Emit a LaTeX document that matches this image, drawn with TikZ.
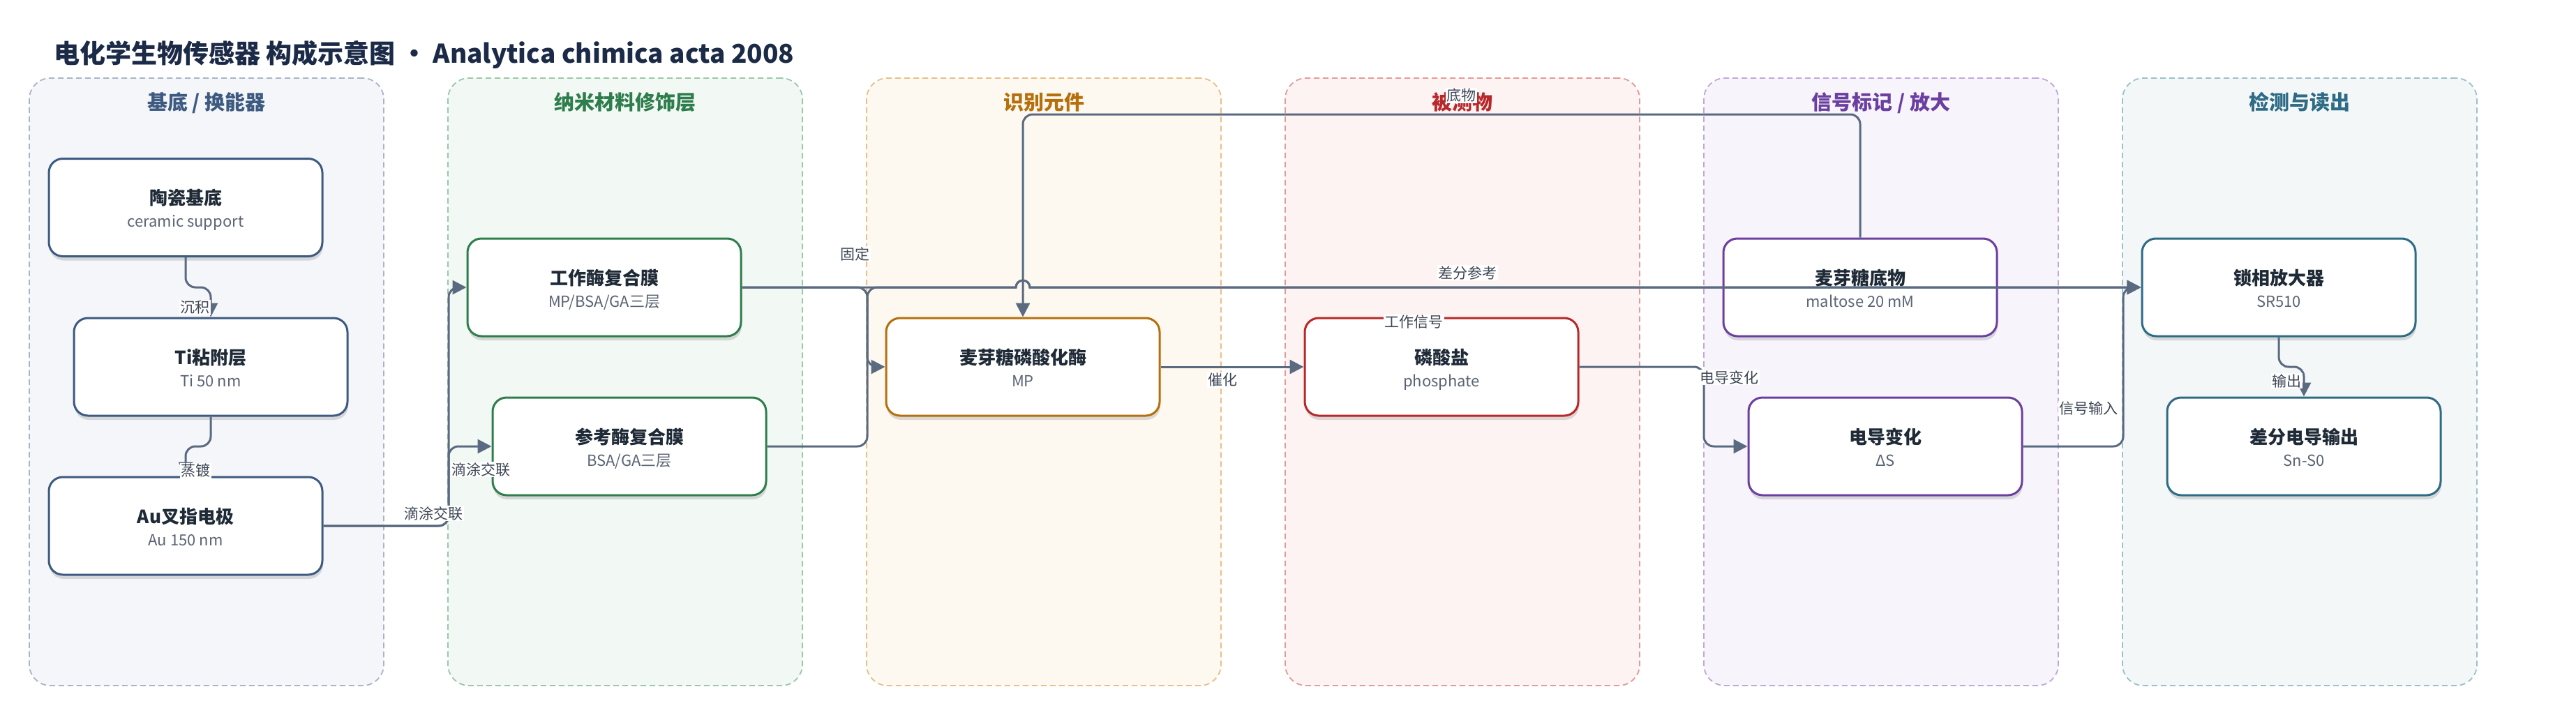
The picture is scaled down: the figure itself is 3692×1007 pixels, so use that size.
\documentclass[tikz,border=0pt]{standalone}
\usepackage{fontspec}
\setmainfont{Noto Sans CJK SC}
\usetikzlibrary{arrows.meta,shadows}
\definecolor{titlec}{HTML}{1B2A47}
\definecolor{edgec}{HTML}{5A6A80}
\definecolor{lblc}{HTML}{3D4654}
\definecolor{boxt}{HTML}{1F2A37}
\definecolor{boxs}{HTML}{5B6474}
% panel colours: fill, border, accent
\definecolor{pfA}{HTML}{F4F6FA}\definecolor{pbA}{HTML}{A8B5C8}\definecolor{acA}{HTML}{3D5A80}
\definecolor{pfB}{HTML}{F2F8F4}\definecolor{pbB}{HTML}{9CC8A8}\definecolor{acB}{HTML}{2E7D4C}
\definecolor{pfC}{HTML}{FDF8F0}\definecolor{pbC}{HTML}{E8C088}\definecolor{acC}{HTML}{B5700C}
\definecolor{pfD}{HTML}{FDF3F2}\definecolor{pbD}{HTML}{E39A9A}\definecolor{acD}{HTML}{B8282A}
\definecolor{pfE}{HTML}{F7F4FB}\definecolor{pbE}{HTML}{C0A8DC}\definecolor{acE}{HTML}{6B3FA0}
\definecolor{pfF}{HTML}{F3F7F8}\definecolor{pbF}{HTML}{9CC0CC}\definecolor{acF}{HTML}{2E6B85}

\newcommand\mkpanel[5]{% name, centre x, fill, border, accent/title
  \node[panel, fill=#3, draw=#4] (#1) at (#2,547.5) {};
  \node[ptitle, text=#5, anchor=base] (#1-t) at (#2,157) {\csname ptxt#1\endcsname};
}
\newcommand\mkbox[6]{% name, x, y, colour, title, sub
  \node[bx, draw=#4] (#1) at (#2,#3) {};
  \node[btitle, anchor=base] (#1-t) at (#2,#3-4) {#5};
  \node[bsub, anchor=base] (#1-s) at (#2,#3+28) {#6};
}

\begin{document}
\begin{tikzpicture}[x=1pt,y=-1pt,
  panel/.style={rectangle, rounded corners=30pt, minimum width=508pt, minimum height=871pt,
    line width=1.8pt, dash pattern=on 8pt off 5pt, inner sep=0pt},
  ptitle/.style={font=\bfseries\fontsize{29}{32}\selectfont, inner sep=0pt},
  bx/.style={rectangle, rounded corners=20pt, minimum width=392pt, minimum height=140pt,
    line width=3pt, fill=white, inner sep=0pt,
    drop shadow={shadow xshift=1pt, shadow yshift=-6pt, opacity=0.13, fill=black}},
  btitle/.style={font=\bfseries\fontsize{26}{30}\selectfont, text=boxt, inner sep=0pt},
  bsub/.style={font=\fontsize{22}{26}\selectfont, text=boxs, inner sep=0pt},
  conn/.style={draw=edgec, line width=3pt, -{Triangle[length=20pt,width=20pt]}},
  rbend/.style={rounded corners=14pt},
  lbl/.style={fill=white, inner sep=1.5pt, text=lblc, font=\fontsize{21}{24}\selectfont},
]
\useasboundingbox (0,0) rectangle (3692,1007);

\node[anchor=base west, inner sep=0pt, text=titlec, font=\bfseries\fontsize{37}{40}\selectfont]
  (title) at (77,90) {电化学生物传感器 构成示意图 · Analytica chimica acta 2008};

\expandafter\def\csname ptxtpA\endcsname{基底 / 换能器}
\expandafter\def\csname ptxtpB\endcsname{纳米材料修饰层}
\expandafter\def\csname ptxtpC\endcsname{识别元件}
\expandafter\def\csname ptxtpD\endcsname{被测物}
\expandafter\def\csname ptxtpE\endcsname{信号标记 / 放大}
\expandafter\def\csname ptxtpF\endcsname{检测与读出}
\mkpanel{pA}{296}{pfA}{pbA}{acA}
\mkpanel{pB}{896}{pfB}{pbB}{acB}
\mkpanel{pC}{1496}{pfC}{pbC}{acC}
\mkpanel{pD}{2096}{pfD}{pbD}{acD}
\mkpanel{pE}{2696}{pfE}{pbE}{acE}
\mkpanel{pF}{3296}{pfF}{pbF}{acF}

\mkbox{cer}{266}{297.5}{acA}{陶瓷基底}{ceramic support}
\mkbox{ti}{302}{526}{acA}{Ti粘附层}{Ti 50 nm}
\mkbox{au}{266}{754}{acA}{Au叉指电极}{Au 150 nm}
\mkbox{wk}{866}{412}{acB}{工作酶复合膜}{MP/BSA/GA三层}
\mkbox{rf}{902}{640}{acB}{参考酶复合膜}{BSA/GA三层}
\mkbox{mp}{1466}{526}{acC}{麦芽糖磷酸化酶}{MP}
\mkbox{ph}{2066}{526}{acD}{磷酸盐}{phosphate}
\mkbox{ms}{2666}{412}{acE}{麦芽糖底物}{maltose 20 mM}
\mkbox{dc}{2702}{640}{acE}{电导变化}{ΔS}
\mkbox{la}{3266}{412}{acF}{锁相放大器}{SR510}
\mkbox{dout}{3302}{640}{acF}{差分电导输出}{Sn-S0}

% connectors
\draw[conn, rbend] (cer.south) -- (266,412) -- (302,412) -- (ti.north);
\draw[conn, rbend] (ti.south) -- (302,640) -- (266,640) -- (au.north);
\draw[conn, rbend] (au.east) -- (643,754) -- (643,412) -- (wk.west);
\draw[conn, rbend] (au.east) -- (643,754) -- (643,640) -- (rf.west);
\draw[conn, rbend] (wk.east) -- (1243,412) -- (1243,526) -- (mp.west);
\draw[conn] (wk.east) -- (1456,412) arc[start angle=180, end angle=0, radius=10pt] -- (la.west);
\draw[conn, rbend] (rf.east) -- (1243,640) -- (1243,412) -- (1440,412)
  {[sharp corners] -- (1456,412) arc[start angle=180, end angle=0, radius=10pt] -- (1490,412)} -- (la.west);
\draw[conn, rbend] (ms.north) -- (2666,164) -- (1466,164) -- (mp.north);
\draw[conn] (mp.east) -- (ph.west);
\draw[conn, rbend] (ph.east) -- (2442,526) -- (2442,640) -- (dc.west);
\draw[conn, rbend] (dc.east) -- (3043,640) -- (3043,412) -- (la.west);
\draw[conn, rbend] (la.south) -- (3266,526) -- (3302,526) -- (dout.north);

% connector labels
\node[lbl] (l1) at (279,441) {沉积};
\node[lbl] (l2) at (280,675) {蒸镀};
\node[lbl] (l3) at (621,736) {滴涂交联};
\node[lbl] (l4) at (689,673) {滴涂交联};
\node[lbl] (l5) at (1225,364) {固定};
\node[lbl] (l6) at (2026,462) {工作信号};
\node[lbl] (l7) at (2103,391) {差分参考};
\node[lbl] (l8) at (2094,137) {底物};
\node[lbl] (l9) at (1752,545) {催化};
\node[lbl] (l10) at (2478,541) {电导变化};
\node[lbl] (l11) at (2993,586) {信号输入};
\node[lbl] (l12) at (3277,546) {输出};
\end{tikzpicture}
\end{document}
